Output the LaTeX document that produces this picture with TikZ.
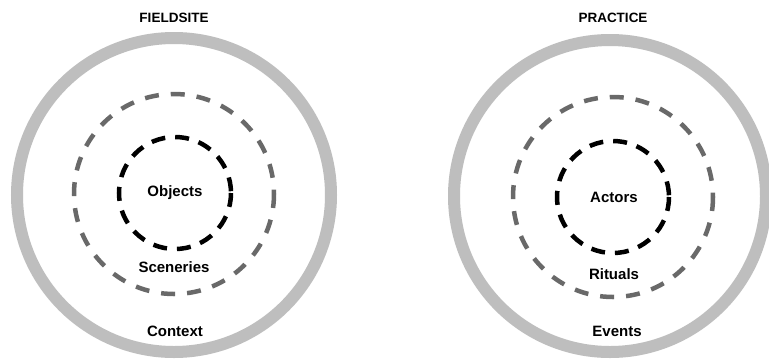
\documentclass[tikz,border=0pt]{standalone}
\usepackage{fontspec}
\setmainfont{Liberation Sans}
\begin{document}
\begin{tikzpicture}[x=1pt,y=-1pt,
  outerring/.style={draw=ringgray,line width=12pt},
  midring/.style={draw=midgray,line width=4.5pt,dash pattern=on 14pt off 12pt},
  innerring/.style={draw=black,line width=4.5pt,dash pattern=on 14pt off 10pt},
  lbl/.style={font=\bfseries\fontsize{15}{17}\selectfont,inner sep=0pt},
  ttl/.style={font=\bfseries\fontsize{13.5}{15}\selectfont,inner sep=0pt}]
\definecolor{ringgray}{RGB}{190,190,190}
\definecolor{midgray}{RGB}{105,105,105}
\useasboundingbox (0,0) rectangle (769,360);
\fill[white] (0,0) rectangle (769,360);
% left
\draw[outerring] (174,195) circle (157);
\draw[midring] (174,194) circle (100);
\draw[innerring] (175,193) circle (56);
\node[ttl] (fs) at (174,18) {FIELDSITE};
\node[lbl] (obj) at (175,193) {Objects};
\node[lbl] (sce) at (174,267) {Sceneries};
\node[lbl] (ctx) at (175,331) {Context};
% right
\draw[outerring] (610,196) circle (156);
\draw[midring] (613,197) circle (100);
\draw[innerring] (613,197) circle (56);
\node[ttl] (pr) at (613,18) {PRACTICE};
\node[lbl] (act) at (614,197) {Actors};
\node[lbl] (rit) at (614,274) {Rituals};
\node[lbl] (evt) at (617,331) {Events};
\end{tikzpicture}
\end{document}
